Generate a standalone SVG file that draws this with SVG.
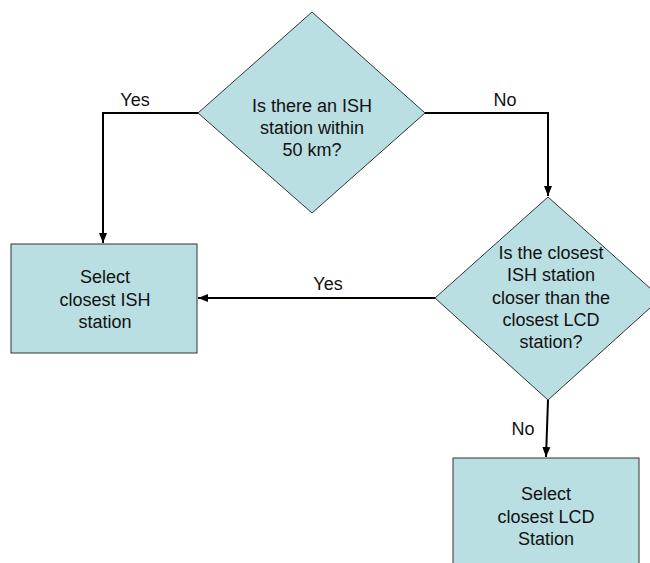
<svg xmlns="http://www.w3.org/2000/svg" width="650" height="563" viewBox="0 0 650 563">
<defs>
<style>
.shape{fill:#B9DFE3;stroke:#333333;stroke-width:1}
.conn{fill:none;stroke:#000000;stroke-width:2}
text{font-family:"Liberation Sans",Arial,sans-serif;font-size:18px;fill:#111111;text-anchor:middle}
</style>
<marker id="arr" markerUnits="userSpaceOnUse" markerWidth="10" markerHeight="10" viewBox="0 0 10 10" refX="10" refY="5" orient="auto">
<path d="M0,1 L10,5 L0,9 Z" fill="#000000"/>
</marker>
</defs>
<rect width="650" height="563" fill="#ffffff"/>
<g id="connectors">
<polyline class="conn" points="198,113 103,113 103,243" marker-end="url(#arr)"/>
<polyline class="conn" points="425,113 548,113 548,196" marker-end="url(#arr)"/>
<line class="conn" x1="435" y1="298" x2="198" y2="298" marker-end="url(#arr)"/>
<line class="conn" x1="548" y1="400" x2="546" y2="457" marker-end="url(#arr)"/>
<text x="135" y="106">Yes</text>
<text x="505" y="106">No</text>
<text x="328" y="290">Yes</text>
<text x="523" y="435">No</text>
</g>
<g id="d1">
<polygon class="shape" points="312,12 425,113 312,213 198,113"/>
<text x="312" y="112">Is there an ISH</text>
<text x="312" y="134">station within</text>
<text x="312" y="156">50 km?</text>
</g>
<g id="d2">
<polygon class="shape" points="548,197 661,298 548,400 435,298"/>
<text x="551" y="259">Is the closest</text>
<text x="551" y="281">ISH station</text>
<text x="551" y="304">closer than the</text>
<text x="551" y="326">closest LCD</text>
<text x="551" y="348">station?</text>
</g>
<g id="b1">
<rect class="shape" x="11" y="244" width="186" height="109"/>
<text x="105" y="283">Select</text>
<text x="105" y="306">closest ISH</text>
<text x="105" y="328">station</text>
</g>
<g id="b2">
<rect class="shape" x="453" y="458" width="186" height="109"/>
<text x="546" y="500">Select</text>
<text x="546" y="523">closest LCD</text>
<text x="546" y="545">Station</text>
</g>
</svg>
